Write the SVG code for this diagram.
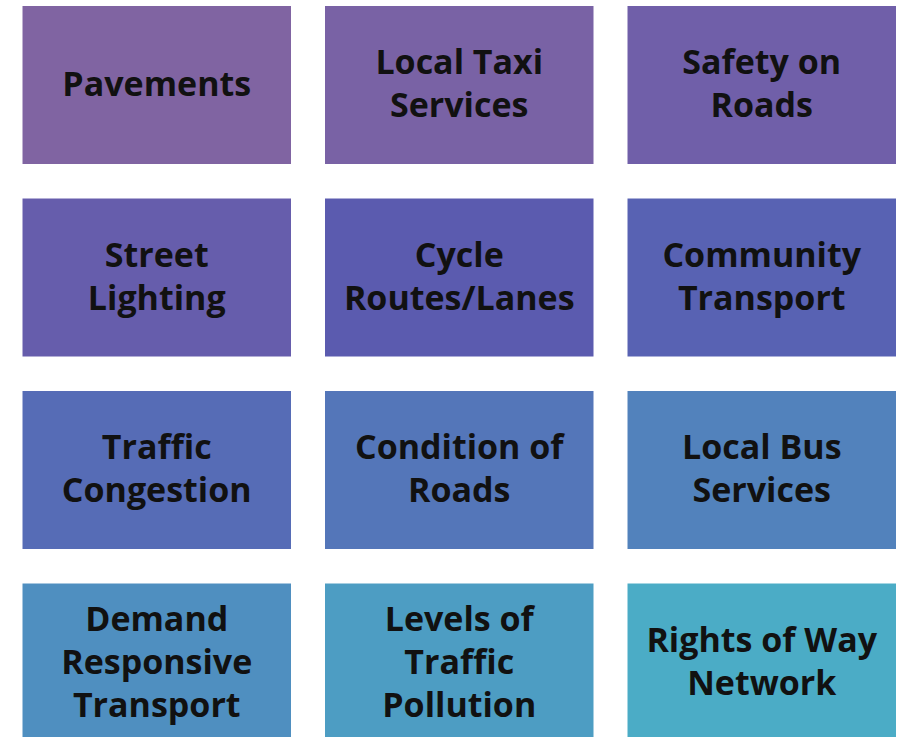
<svg xmlns="http://www.w3.org/2000/svg" width="905" height="737" viewBox="0 0 905 737">
<style>
rect{stroke:#ffffff;stroke-width:1}
text{font-family:"Open Sans","Noto Sans","Liberation Sans",sans-serif;font-weight:700;font-size:34px;fill:#111111;text-anchor:middle}
</style>
<rect x="0" y="0" width="905" height="737" fill="#ffffff" style="stroke:none"/>
<g id="n1"><rect x="22" y="5.5" width="269.5" height="159" fill="#8064A2"/><text x="156.75" y="96">Pavements</text></g>
<g id="n2"><rect x="324.5" y="5.5" width="269.5" height="159" fill="#7962A5"/><text x="459.25" y="74">Local Taxi</text><text x="459.25" y="117">Services</text></g>
<g id="n3"><rect x="627" y="5.5" width="269.5" height="159" fill="#705FA9"/><text x="761.75" y="74">Safety on</text><text x="761.75" y="117">Roads</text></g>
<g id="n4"><rect x="22" y="198" width="269.5" height="159" fill="#665DAC"/><text x="156.75" y="266.5">Street</text><text x="156.75" y="309.5">Lighting</text></g>
<g id="n5"><rect x="324.5" y="198" width="269.5" height="159" fill="#5B5BAF"/><text x="459.25" y="266.5">Cycle</text><text x="459.25" y="309.5">Routes/Lanes</text></g>
<g id="n6"><rect x="627" y="198" width="269.5" height="159" fill="#5862B3"/><text x="761.75" y="266.5">Community</text><text x="761.75" y="309.5">Transport</text></g>
<g id="n7"><rect x="22" y="390.5" width="269.5" height="159" fill="#566CB6"/><text x="156.75" y="459">Traffic</text><text x="156.75" y="502">Congestion</text></g>
<g id="n8"><rect x="324.5" y="390.5" width="269.5" height="159" fill="#5476B9"/><text x="459.25" y="459">Condition of</text><text x="459.25" y="502">Roads</text></g>
<g id="n9"><rect x="627" y="390.5" width="269.5" height="159" fill="#5282BC"/><text x="761.75" y="459">Local Bus</text><text x="761.75" y="502">Services</text></g>
<g id="n10"><rect x="22" y="583" width="269.5" height="159" fill="#4F8FC0"/><text x="156.75" y="631">Demand</text><text x="156.75" y="674">Responsive</text><text x="156.75" y="717">Transport</text></g>
<g id="n11"><rect x="324.5" y="583" width="269.5" height="159" fill="#4D9DC3"/><text x="459.25" y="631">Levels of</text><text x="459.25" y="674">Traffic</text><text x="459.25" y="717">Pollution</text></g>
<g id="n12"><rect x="627" y="583" width="269.5" height="159" fill="#4BACC6"/><text x="761.75" y="652">Rights of Way</text><text x="761.75" y="695">Network</text></g>
<g id="connectors"/>
</svg>
